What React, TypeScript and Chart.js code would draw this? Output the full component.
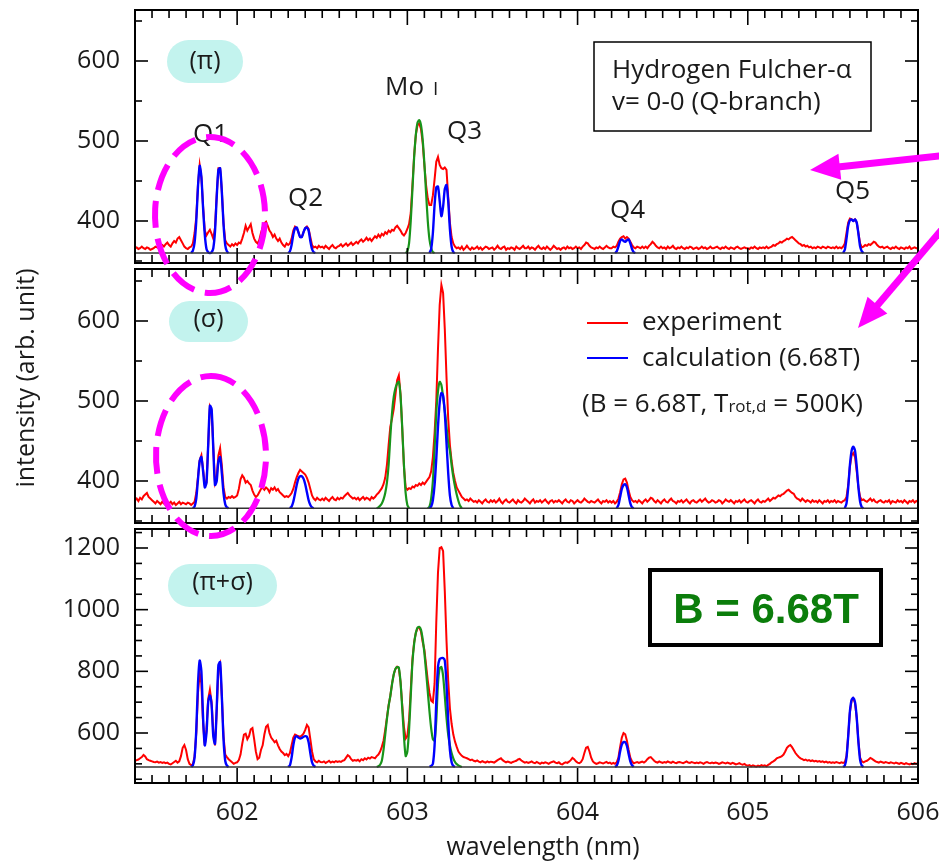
import React, { useEffect, useRef } from "react";
import { Chart, registerables } from "chart.js";

Chart.register(...registerables);

// ---------------- data ----------------
const WL_START = 601.4; // first wavelength of the experimental spectra (nm)
const WL_STEP = 0.01; // sampling step (nm)
const X_MIN = 601.4;
const X_MAX = 606.0;
const X_TICK_LABELS = [602, 603, 604, 605, 606];
const Y_TICKS_PI = [400, 500, 600];
const Y_TICKS_SIGMA = [400, 500, 600];
const Y_TICKS_PISIGMA = [600, 800, 1000, 1200];

// experiment, pi component (top panel)
const expPi = [
  366, 367, 365, 366, 368, 366, 365, 367, 366, 364,
  365, 366, 368, 367, 366, 369, 370, 368, 371, 373,
  370, 368, 372, 375, 373, 378, 380, 376, 372, 368,
  366, 365, 367, 368, 372, 385, 405, 445, 470, 455,
  418, 388, 382, 386, 389, 384, 378, 392, 432, 466,
  466, 438, 398, 376, 372, 370, 368, 371, 369, 372,
  370, 373, 372, 378, 385, 394, 388, 392, 396, 385,
  378, 374, 372, 376, 385, 392, 397, 399, 394, 388,
  385, 380, 383, 378, 375, 378, 373, 370, 368, 372,
  370, 372, 378, 388, 393, 391, 386, 380, 380, 386,
  391, 393, 390, 380, 370, 367, 368, 366, 369, 367,
  368, 366, 369, 367, 365, 368, 370, 367, 366, 368,
  369, 371, 368, 370, 372, 369, 371, 373, 370, 372,
  374, 372, 375, 377, 374, 376, 379, 376, 378, 375,
  378, 381, 379, 383, 380, 384, 382, 386, 384, 388,
  386, 389, 388, 392, 394, 391, 388, 384, 382, 385,
  390, 396, 410, 445, 482, 508, 520, 522, 515, 498,
  470, 445, 428, 420, 420, 432, 452, 474, 480, 470,
  466, 465, 467, 464, 430, 398, 380, 372, 368, 366,
  367, 365, 368, 364, 366, 369, 366, 364, 367, 365,
  366, 368, 365, 367, 364, 366, 368, 367, 365, 366,
  367, 364, 366, 369, 366, 365, 367, 368, 364, 366,
  365, 367, 366, 364, 368, 366, 365, 367, 369, 366,
  366, 368, 365, 367, 366, 364, 367, 369, 366, 365,
  367, 365, 368, 366, 364, 366, 369, 367, 365, 366,
  364, 366, 367, 365, 368, 366, 367, 365, 366, 368,
  366, 367, 365, 368, 370, 373, 372, 369, 367, 366,
  365, 367, 366, 368, 366, 365, 367, 369, 367, 366,
  366, 368, 367, 369, 374, 378, 380, 381, 378, 380,
  378, 374, 370, 367, 366, 368, 367, 366, 368, 366,
  368, 366, 369, 371, 374, 372, 369, 367, 366, 368,
  366, 367, 365, 368, 366, 367, 369, 366, 365, 367,
  366, 368, 366, 365, 367, 366, 368, 367, 365, 366,
  367, 365, 366, 368, 366, 367, 365, 366, 368, 366,
  366, 367, 368, 366, 365, 367, 366, 368, 366, 365,
  367, 366, 365, 367, 368, 366, 365, 366, 367, 366,
  366, 365, 367, 366, 368, 366, 365, 367, 366, 367,
  366, 368, 366, 367, 368, 370, 369, 371, 372, 374,
  373, 375, 376, 378, 377, 379, 380, 378, 376, 374,
  372, 371, 369, 370, 368, 369, 367, 368, 366, 367,
  366, 368, 367, 366, 368, 367, 366, 368, 367, 366,
  367, 366, 368, 366, 367, 366, 368, 372, 385, 398,
  403, 402, 400, 402, 398, 385, 372, 367, 368, 370,
  369, 371, 370, 372, 374, 373, 370, 368, 367, 368,
  366, 367, 368, 366, 365, 367, 366, 368, 366, 365,
  367, 366, 365, 367, 366, 368, 365, 366, 367, 366,
  366,
];

// experiment, sigma component (middle panel)
const expSigma = [
  376, 378, 375, 379, 377, 381, 383, 385, 380, 378,
  376, 374, 372, 375, 373, 371, 374, 372, 370, 373,
  372, 374, 371, 373, 370, 372, 374, 371, 373, 372,
  371, 373, 372, 370, 372, 374, 385, 405, 426, 432,
  415, 395, 398, 445, 493, 488, 442, 398, 405, 432,
  441, 420, 392, 380, 378, 380, 379, 381, 379, 380,
  382, 390, 402, 407, 404, 398, 400, 397, 395, 388,
  383, 380, 382, 386, 390, 392, 389, 392, 390, 386,
  391, 389, 392, 388, 390, 386, 384, 382, 380, 381,
  380, 382, 385, 390, 398, 405, 410, 414, 412, 410,
  408, 404, 398, 390, 382, 378, 376, 379, 377, 376,
  378, 376, 379, 377, 375, 378, 380, 377, 376, 379,
  377, 379, 378, 381, 383, 385, 382, 380, 378, 379,
  377, 379, 376, 378, 380, 377, 379, 378, 376, 380,
  378, 380, 383, 385, 388, 391, 396, 404, 420, 445,
  468, 478, 490, 508, 526, 532, 508, 465, 418, 392,
  389, 391, 390, 393, 392, 395, 394, 397, 395, 398,
  396, 399, 402, 405, 412, 430, 460, 500, 565, 620,
  645, 635, 590, 530, 478, 445, 425, 410, 400, 392,
  388, 384, 380, 378, 376, 377, 375, 378, 376, 374,
  375, 373, 376, 374, 372, 375, 377, 374, 373, 376,
  374, 376, 373, 375, 378, 374, 372, 375, 377, 374,
  373, 375, 377, 374, 372, 376, 374, 373, 375, 378,
  376, 374, 372, 375, 377, 373, 375, 374, 376, 373,
  375, 377, 374, 372, 375, 376, 373, 375, 374, 376,
  374, 372, 375, 377, 374, 373, 376, 375, 372, 374,
  376, 374, 373, 375, 378, 376, 374, 373, 375, 374,
  373, 375, 377, 374, 372, 375, 374, 376, 373, 375,
  373, 375, 372, 374, 378, 386, 396, 402, 403, 398,
  388, 380, 376, 374, 375, 373, 376, 374, 372, 375,
  377, 374, 376, 379, 378, 375, 373, 376, 374, 372,
  375, 377, 374, 373, 376, 378, 375, 374, 372, 375,
  374, 376, 373, 375, 377, 374, 372, 375, 376, 374,
  373, 375, 377, 374, 376, 378, 375, 373, 374, 376,
  375, 373, 374, 376, 375, 372, 374, 377, 375, 374,
  376, 374, 372, 375, 374, 376, 373, 375, 377, 374,
  373, 375, 376, 374, 372, 375, 377, 374, 373, 375,
  374, 376, 378, 375, 377, 379, 378, 380, 382, 381,
  383, 384, 386, 388, 389, 387, 385, 384, 380, 378,
  377, 375, 378, 376, 374, 376, 375, 373, 376, 374,
  375, 373, 376, 374, 372, 375, 374, 376, 373, 375,
  374, 376, 373, 375, 374, 373, 375, 376, 380, 395,
  418, 432, 435, 430, 412, 392, 380, 376, 377, 375,
  374, 376, 378, 375, 377, 374, 373, 375, 376, 374,
  373, 375, 374, 376, 372, 375, 374, 373, 376, 374,
  375, 373, 376, 374, 372, 375, 374, 376, 373, 375,
  374,
];

// experiment, pi+sigma (bottom panel)
const expPiSigma = [
  510, 512, 514, 518, 522, 529, 524, 515, 512, 510,
  508, 506, 505, 507, 504, 506, 503, 505, 502, 504,
  500, 498, 502, 506, 510, 504, 508, 525, 552, 561,
  545, 515, 500, 496, 498, 525, 600, 730, 795, 760,
  630, 560, 610, 710, 740, 700, 600, 560, 670, 810,
  825, 720, 590, 530, 522, 515, 510, 505, 500, 503,
  505, 512, 530, 565, 595, 598, 580, 590, 612, 616,
  580, 540, 515, 520, 545, 560, 595, 620, 626, 600,
  585, 578, 570, 575, 560, 548, 540, 535, 528, 532,
  525, 535, 560, 585, 595, 592, 590, 588, 592, 598,
  610, 626, 618, 580, 540, 515, 508, 505, 510, 506,
  505, 508, 503, 506, 510, 504, 507, 505, 509, 506,
  508, 506, 510, 512, 520, 528, 524, 515, 510, 512,
  510, 513, 508, 515, 512, 518, 514, 520, 517, 522,
  520, 518, 525, 530, 540, 555, 575, 610, 650, 690,
  720, 760, 790, 808, 815, 810, 765, 690, 620, 582,
  590, 640, 740, 840, 895, 925, 940, 943, 930, 895,
  870, 820, 770, 730, 705, 700, 760, 960, 1120, 1200,
  1203, 1190, 1060, 900, 770, 680, 630, 595, 572, 555,
  540, 532, 526, 522, 520, 518, 515, 512, 514, 510,
  508, 511, 507, 505, 509, 506, 504, 508, 505, 507,
  506, 504, 508, 512, 515, 518, 512, 508, 505, 507,
  505, 503, 506, 508, 510, 514, 516, 511, 507, 504,
  506, 503, 505, 508, 504, 502, 506, 503, 500, 504,
  502, 505, 503, 500, 504, 506, 508, 504, 502, 505,
  500, 498, 502, 505, 503, 507, 512, 519, 515, 508,
  504, 502, 506, 515, 535, 552, 555, 540, 520, 508,
  503, 500, 502, 505, 503, 501, 504, 506, 502, 504,
  500, 503, 500, 505, 520, 555, 585, 600, 596, 575,
  545, 520, 508, 502, 504, 506, 503, 505, 507, 504,
  508, 515, 520, 522, 516, 510, 506, 504, 508, 505,
  503, 506, 504, 508, 505, 503, 507, 504, 502, 505,
  506, 504, 502, 505, 508, 504, 503, 506, 504, 502,
  504, 502, 505, 503, 500, 504, 506, 503, 502, 504,
  502, 504, 503, 500, 502, 505, 503, 501, 504, 502,
  500, 503, 501, 498, 500, 502, 499, 497, 500, 496,
  494, 496, 492, 495, 493, 491, 494, 492, 496, 493,
  495, 492, 497, 500, 505, 508, 512, 518, 520, 522,
  525, 530, 540, 552, 558, 561, 554, 545, 535, 528,
  522, 518, 515, 512, 514, 510, 512, 509, 511, 508,
  510, 507, 509, 506, 508, 505, 507, 504, 506, 503,
  505, 503, 506, 504, 502, 505, 503, 505, 525, 592,
  668, 705, 712, 698, 648, 572, 520, 508, 505, 508,
  510, 514, 519, 516, 512, 508, 506, 504, 507, 505,
  503, 506, 504, 502, 505, 503, 501, 504, 502, 500,
  503, 501, 499, 502, 500, 498, 501, 499, 502, 500,
  501,
];

// calculation (6.68T): [start wavelength, values at 0.01 nm steps]
const calcPi: [number, number[]][] = [
  [601.73, [360, 363, 373, 400, 443, 469, 455, 416, 383, 365, 361, 360, 361, 366, 387, 430, 464, 466, 437, 396, 370, 362, 360]],
  [602.3, [360, 362, 370, 383, 391, 392, 386, 380, 380, 386, 391, 392, 388, 375, 365, 361, 360]],
  [603.13, [360, 365, 385, 420, 442, 443, 425, 406, 418, 440, 445, 425, 390, 368, 361, 360]],
  [604.22, [360, 362, 368, 375, 377, 375, 374, 376, 377, 372, 365, 361, 360]],
  [605.56, [360, 364, 378, 394, 401, 402, 400, 402, 398, 384, 368, 362, 360]],
];
const calcSigma: [number, number[]][] = [
  [601.74, [366, 368, 378, 402, 425, 430, 412, 392, 398, 445, 494, 490, 440, 395, 400, 425, 430, 410, 385, 371, 367, 366]],
  [602.31, [366, 368, 374, 384, 395, 403, 406, 406, 403, 396, 386, 376, 370, 367, 366]],
  [603.13, [366, 368, 376, 395, 428, 468, 498, 510, 507, 485, 448, 410, 382, 370, 366]],
  [604.23, [366, 370, 380, 390, 395, 396, 392, 382, 372, 367, 366]],
  [605.57, [366, 372, 392, 420, 438, 443, 438, 418, 392, 374, 367, 366]],
];
const calcPiSigma: [number, number[]][] = [
  [601.73, [490, 495, 520, 610, 760, 835, 800, 650, 560, 600, 700, 722, 690, 590, 565, 680, 820, 830, 720, 580, 510, 494, 490]],
  [602.3, [490, 495, 520, 560, 585, 590, 585, 582, 584, 588, 590, 588, 570, 535, 505, 494, 490]],
  [603.13, [490, 493, 500, 560, 700, 815, 840, 843, 843, 835, 760, 640, 545, 505, 493, 490]],
  [604.22, [490, 494, 510, 540, 562, 571, 570, 558, 532, 508, 495, 490]],
  [605.56, [490, 494, 520, 590, 670, 708, 714, 700, 650, 570, 512, 494, 490]],
];

// Mo I line fits (green)
const moPi: [number, number[]][] = [
  [602.99, [360, 362, 372, 400, 440, 480, 508, 523, 526, 520, 502, 472, 435, 400, 377, 366, 361, 360]],
];
const moSigma: [number, number[]][] = [
  [602.82, [366, 367, 369, 372, 377, 385, 398, 420, 455, 485, 505, 516, 522, 524, 506, 466, 420, 385, 370, 366]],
  [603.12, [366, 368, 378, 400, 440, 485, 512, 524, 520, 505, 488, 468, 448, 438, 420, 405, 393, 383, 375, 369, 366]],
];
const moPiSigma: [number, number[]][] = [
  [602.82, [490, 492, 497, 510, 545, 595, 645, 688, 720, 758, 790, 808, 814, 812, 765, 680, 590, 525,
    540, 610, 720, 830, 890, 925, 942, 944, 935, 905, 860, 800, 735, 670, 615, 580, 575, 640, 760, 810, 814,
    785, 720, 650, 595, 560, 535, 518, 506, 499, 495, 492, 490]],
];

// baselines (zero of the calculated spectra) per panel
const BASELINES = [360, 366, 490];
const Y_RANGES = [
  [343.75, 663.75],
  [343.75, 668.75],
  [437.84, 1271.35],
];
const Y_MAJOR_STEPS = [100, 100, 200];
const Y_MINOR_STEP = 50;
const PANEL_LABELS = ["(π)", "(σ)", "(π+σ)"];

// ---------------- helpers ----------------
const PANEL_IDS = ["yPi", "ySigma", "yPiSigma"];
const Y_TICKS = [Y_TICKS_PI, Y_TICKS_SIGMA, Y_TICKS_PISIGMA];
const STACK_WEIGHTS = [256, 260, 257];
const PANEL_GAP = 3;
const FONT = '"Open Sans", "Noto Sans", sans-serif';
const TEXT = "#1a1a1a";
const RED = "#ff0000";
const BLUE = "#0000ff";
const GREEN = "#18941a";
const MAGENTA = "#ff00ff";

function toPoints(values: number[], start: number) {
  return values.map((y, i) => ({ x: Math.round((start + i * WL_STEP) * 100) / 100, y }));
}
function segPoints(segs: [number, number[]][]) {
  const out: any[] = [];
  segs.forEach(([s, v], k) => {
    if (k > 0) out.push({ x: s - WL_STEP / 2, y: null });
    out.push(...toPoints(v, s));
  });
  return out;
}

const EXP = [expPi, expSigma, expPiSigma];
const CALC = [calcPi, calcSigma, calcPiSigma];
const MO = [moPi, moSigma, moPiSigma];

function buildDatasets() {
  const ds: any[] = [];
  PANEL_IDS.forEach((id, k) => {
    ds.push({
      label: "calculation (6.68T)",
      data: segPoints(CALC[k]),
      yAxisID: id,
      borderColor: BLUE,
      borderWidth: 2.4,
      pointRadius: 0,
      tension: 0.25,
      spanGaps: false,
      order: 0,
    });
    ds.push({
      label: "Mo I",
      data: segPoints(MO[k]),
      yAxisID: id,
      borderColor: GREEN,
      borderWidth: 2.2,
      pointRadius: 0,
      tension: 0.25,
      spanGaps: false,
      order: 1,
    });
    ds.push({
      label: "experiment",
      data: toPoints(EXP[k], WL_START),
      yAxisID: id,
      borderColor: RED,
      borderWidth: 2,
      pointRadius: 0,
      tension: 0,
      order: 2,
    });
  });
  return ds;
}

function noPadding(s: any) {
  s.paddingTop = 0;
  s.paddingBottom = 0;
  s.paddingLeft = 0;
  s.paddingRight = 0;
}

function buildYScales() {
  const scales: any = {};
  PANEL_IDS.forEach((id, k) => {
    scales[id] = {
      type: "linear",
      position: "left",
      stack: "panels",
      stackWeight: STACK_WEIGHTS[k],
      weight: PANEL_IDS.length - k,
      min: Y_RANGES[k][0],
      max: Y_RANGES[k][1],
      grid: { display: false, drawTicks: false },
      border: { display: false },
      afterBuildTicks: (s: any) => {
        s.ticks = Y_TICKS[k].map((v) => ({ value: v }));
      },
      ticks: {
        color: TEXT,
        padding: 15,
        font: { family: FONT, size: 25 },
        callback: (v: any) => String(v),
      },
      afterFit: (s: any) => {
        s.width = 135;
        noPadding(s);
      },
    };
  });
  return scales;
}

function line(ctx: CanvasRenderingContext2D, x1: number, y1: number, x2: number, y2: number) {
  ctx.beginPath();
  ctx.moveTo(x1, y1);
  ctx.lineTo(x2, y2);
  ctx.stroke();
}

function arrow(ctx: CanvasRenderingContext2D, x1: number, y1: number, x2: number, y2: number) {
  const a = Math.atan2(y2 - y1, x2 - x1);
  const hl = 30;
  const hw = 13;
  const bx = x2 - hl * Math.cos(a);
  const by = y2 - hl * Math.sin(a);
  ctx.save();
  ctx.strokeStyle = MAGENTA;
  ctx.fillStyle = MAGENTA;
  ctx.lineWidth = 7;
  line(ctx, x1, y1, bx + 2 * Math.cos(a), by + 2 * Math.sin(a));
  ctx.beginPath();
  ctx.moveTo(x2, y2);
  ctx.lineTo(bx + hw * Math.sin(a), by - hw * Math.cos(a));
  ctx.lineTo(bx - hw * Math.sin(a), by + hw * Math.cos(a));
  ctx.closePath();
  ctx.fill();
  ctx.restore();
}

function pill(ctx: CanvasRenderingContext2D, x: number, y: number, w: number, h: number, text: string, baseline: number) {
  const r = h / 2;
  ctx.save();
  ctx.fillStyle = "#c3f3ee";
  ctx.beginPath();
  ctx.moveTo(x + r, y);
  ctx.lineTo(x + w - r, y);
  ctx.arc(x + w - r, y + r, r, -Math.PI / 2, Math.PI / 2);
  ctx.lineTo(x + r, y + h);
  ctx.arc(x + r, y + r, r, Math.PI / 2, (3 * Math.PI) / 2);
  ctx.closePath();
  ctx.fill();
  ctx.fillStyle = TEXT;
  ctx.font = `25px ${FONT}`;
  ctx.textAlign = "center";
  ctx.textBaseline = "alphabetic";
  ctx.fillText(text, x + w / 2, baseline);
  ctx.restore();
}

function dashedEllipse(ctx: CanvasRenderingContext2D, cx: number, cy: number, rx: number, ry: number) {
  ctx.save();
  ctx.strokeStyle = MAGENTA;
  ctx.lineWidth = 6;
  ctx.setLineDash([27, 11]);
  ctx.lineDashOffset = 6;
  ctx.beginPath();
  ctx.ellipse(cx, cy, rx, ry, 0, -Math.PI / 2 + 0.08, (3 * Math.PI) / 2 + 0.08);
  ctx.stroke();
  ctx.restore();
}

const decorPlugin = {
  id: "decor",
  afterDatasetsDraw(chart: any) {
    const ctx: CanvasRenderingContext2D = chart.ctx;
    const { left, right } = chart.chartArea;
    const xs = chart.scales.x;
    PANEL_IDS.forEach((id, k) => {
      const ys = chart.scales[id];
      const top = ys.top + (k === 0 ? 0 : PANEL_GAP);
      const bottom = ys.bottom - (k === PANEL_IDS.length - 1 ? 0 : PANEL_GAP);
      ctx.save();
      // baseline
      const yb = ys.getPixelForValue(BASELINES[k]);
      ctx.strokeStyle = "#333";
      ctx.lineWidth = 1.5;
      line(ctx, left, yb, right, yb);
      // frame
      ctx.strokeStyle = "#000";
      ctx.lineWidth = 2;
      ctx.strokeRect(left, top, right - left, bottom - top);
      ctx.lineWidth = 1.6;
      // x ticks (inside, top and bottom)
      for (let t = Math.ceil(xs.min * 10 - 1e-6); t <= Math.floor(xs.max * 10 + 1e-6); t++) {
        const px = xs.getPixelForValue(t / 10);
        const len = t % 10 === 0 ? 15 : 8;
        line(ctx, px, top, px, top + len);
        line(ctx, px, bottom, px, bottom - len);
      }
      // y ticks (inside, left and right)
      const vTop = ys.getValueForPixel(top);
      const vBot = ys.getValueForPixel(bottom);
      for (let v = Math.ceil(vBot / Y_MINOR_STEP) * Y_MINOR_STEP; v <= vTop; v += Y_MINOR_STEP) {
        const py = ys.getPixelForValue(v);
        const len = v % Y_MAJOR_STEPS[k] === 0 ? 13 : 7;
        line(ctx, left, py, left + len, py);
        line(ctx, right, py, right - len, py);
      }
      ctx.restore();
    });
  },
  afterDraw(chart: any) {
    const ctx: CanvasRenderingContext2D = chart.ctx;
    ctx.save();
    ctx.fillStyle = TEXT;
    ctx.textBaseline = "alphabetic";

    // axis titles
    ctx.font = `25px ${FONT}`;
    ctx.textAlign = "center";
    ctx.fillText("wavelength (nm)", 543, 855);
    ctx.save();
    ctx.translate(34, 378);
    ctx.rotate(-Math.PI / 2);
    ctx.fillText("intensity (arb. unit)", 0, 0);
    ctx.restore();

    // panel labels
    pill(ctx, 167, 40, 76, 43, PANEL_LABELS[0], 69);
    pill(ctx, 169, 301, 79, 41, PANEL_LABELS[1], 327);
    pill(ctx, 168, 564, 109, 43, PANEL_LABELS[2], 590);

    // line labels
    ctx.fillStyle = TEXT;
    ctx.textAlign = "left";
    ctx.font = `26px ${FONT}`;
    ctx.fillText("Q1", 193, 142);
    ctx.fillText("Q2", 288, 206);
    ctx.fillText("Q3", 447, 139);
    ctx.fillText("Q4", 610, 218);
    ctx.fillText("Q5", 835, 199);
    ctx.fillText("Mo", 385, 95);
    ctx.font = `19px ${FONT}`;
    ctx.fillText("I", 433, 95);

    // title box
    ctx.strokeStyle = "#000";
    ctx.lineWidth = 1.5;
    ctx.strokeRect(594, 42, 277, 89);
    ctx.font = `26px ${FONT}`;
    ctx.fillText("Hydrogen Fulcher-α", 612, 78);
    ctx.fillText("v= 0-0 (Q-branch)", 612, 110);

    // legend
    ctx.lineWidth = 2;
    ctx.strokeStyle = RED;
    line(ctx, 587, 323, 628, 323);
    ctx.strokeStyle = BLUE;
    line(ctx, 587, 358, 628, 358);
    ctx.fillStyle = TEXT;
    ctx.fillText("experiment", 642, 330);
    ctx.fillText("calculation (6.68T)", 642, 366);

    // condition text with subscript
    let x = 582;
    const s1 = "(B = 6.68T, T";
    ctx.fillText(s1, x, 412);
    x += ctx.measureText(s1).width;
    ctx.font = `17px ${FONT}`;
    ctx.fillText("rot,d", x, 412);
    x += ctx.measureText("rot,d").width;
    ctx.font = `26px ${FONT}`;
    ctx.fillText(" = 500K)", x, 412);

    // B field box
    ctx.strokeStyle = "#000";
    ctx.lineWidth = 4;
    ctx.strokeRect(650, 570, 231, 75);
    ctx.fillStyle = "#0b7d0b";
    ctx.font = `bold 42px "Liberation Sans", Arial, sans-serif`;
    ctx.textAlign = "center";
    ctx.fillText("B = 6.68T", 766, 623);

    // highlight ellipses
    dashedEllipse(ctx, 210, 215, 55, 78);
    dashedEllipse(ctx, 211, 456, 55, 80);

    // arrows
    arrow(ctx, 948, 155, 810, 170);
    arrow(ctx, 950, 220, 858, 328);

    ctx.restore();
  },
};

export default function App() {
  const ref = useRef<HTMLCanvasElement>(null);
  useEffect(() => {
    const chart = new Chart(ref.current as HTMLCanvasElement, {
      type: "line",
      data: { datasets: buildDatasets() },
      options: {
        responsive: false,
        animation: false,
        devicePixelRatio: 1,
        layout: { padding: { top: 10, right: 21, left: 0, bottom: 0 } },
        plugins: { legend: { display: false }, tooltip: { enabled: false } },
        scales: {
          x: {
            type: "linear",
            min: X_MIN,
            max: X_MAX,
            grid: { display: false, drawTicks: false },
            border: { display: false },
            afterBuildTicks: (s: any) => {
              s.ticks = X_TICK_LABELS.map((v) => ({ value: v }));
            },
            ticks: {
              color: TEXT,
              padding: 15,
              maxRotation: 0,
              autoSkip: false,
              font: { family: FONT, size: 25 },
              callback: (v: any) => String(v),
            },
            afterFit: (s: any) => {
              s.height = 80;
              noPadding(s);
            },
          },
          ...buildYScales(),
        },
      } as any,
      plugins: [decorPlugin],
    });
    return () => chart.destroy();
  }, []);
  return (
    <div style={{ position: "absolute", left: 0, top: 0, width: 939, height: 863, background: "#fff" }}>
      <canvas ref={ref} width={939} height={863} style={{ display: "block", width: 939, height: 863 }} />
    </div>
  );
}
